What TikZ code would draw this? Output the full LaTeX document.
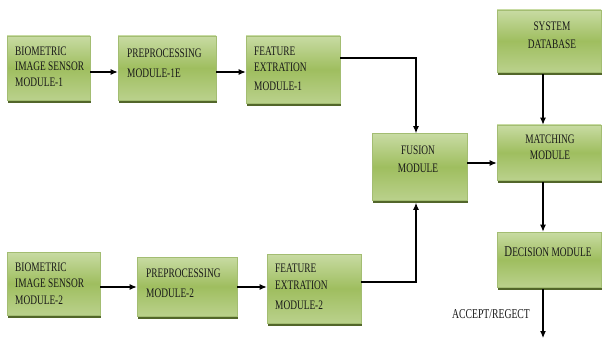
\documentclass[tikz,border=0pt]{standalone}
\usepackage{fontspec}
\setmainfont{Liberation Serif}[FakeStretch=0.72]
\usetikzlibrary{arrows.meta,shadows}
\definecolor{gtop}{HTML}{C8DBA3}
\definecolor{gmid}{HTML}{9FBE5F}
\definecolor{gbot}{HTML}{BAD18C}
\definecolor{gline}{HTML}{A3BD72}
\definecolor{gshadow}{HTML}{52662A}
\pgfdeclareverticalshading{greenbox}{100bp}{color(0bp)=(gbot); color(25bp)=(gbot); color(50bp)=(gmid); color(75bp)=(gtop); color(100bp)=(gtop)}
\begin{document}
\begin{tikzpicture}[x=1pt,y=-1pt,
  box/.style={draw=gline, line width=0.6pt, shade, shading=greenbox, inner sep=0pt,
    drop shadow={shadow xshift=1pt, shadow yshift=-3pt, fill=gshadow, opacity=1}},
  txt/.style={font=\fontsize{13}{16}\selectfont, text=black!90, inner sep=0pt, align=left, anchor=west},
  ctxt/.style={txt, align=center, anchor=center},
  arr/.style={draw=black, line width=1.1pt, -{Latex[length=7pt,width=6pt]}},
  ln/.style={draw=black, line width=1.1pt}]
\useasboundingbox (0,0) rectangle (602,339);
% boxes
\node[box, minimum width=83pt, minimum height=64pt] (b1) at (48.5,68) {};
\node[box, minimum width=98pt, minimum height=64pt] (p1) at (167,68) {};
\node[box, minimum width=94pt, minimum height=67pt] (f1) at (293,69.5) {};
\node[box, minimum width=93pt, minimum height=63pt] (b2) at (53.5,283.5) {};
\node[box, minimum width=100pt, minimum height=59pt] (p2) at (187,286.5) {};
\node[box, minimum width=94pt, minimum height=69pt] (f2) at (314,288.5) {};
\node[box, minimum width=95pt, minimum height=67pt] (fu) at (419.5,167) {};
\node[box, minimum width=104pt, minimum height=62pt] (db) at (549,41) {};
\node[box, minimum width=104pt, minimum height=55pt] (ma) at (549,152.5) {};
\node[box, minimum width=104pt, minimum height=55pt] (de) at (549,259.5) {};
% texts
\node[txt] (tb1) at (15,66.5) {BIOMETRIC\\[-0.5pt]IMAGE SENSOR\\[-0.5pt]MODULE-1};
\node[txt] (tp1) at (127,63) {PREPROCESSING\\[4pt]MODULE-1E};
\node[txt] (tf1) at (254,68.5) {FEATURE\\EXTRATION\\[3pt]MODULE-1};
\node[txt] (tb2) at (15,283.5) {BIOMETRIC\\[0.5pt]IMAGE SENSOR\\[0.5pt]MODULE-2};
\node[txt] (tp2) at (146,283) {PREPROCESSING\\[4pt]MODULE-2};
\node[txt] (tf2) at (275,286.5) {FEATURE\\[1pt]EXTRATION\\[4pt]MODULE-2};
\node[ctxt] (tfu) at (418,159) {FUSION\\[2pt]MODULE};
\node[ctxt] (tdb) at (552,35) {SYSTEM\\[2pt]DATABASE};
\node[ctxt] (tma) at (550,147) {MATCHING\\MODULE};
\node[ctxt] (tde) at (548,252) {{\fontsize{15}{16}\selectfont D}ECISION MODULE};
\node[ctxt, font=\fontsize{13.5}{16}\selectfont] (ac) at (491,314) {ACCEPT/REGECT};
% helper coordinates
\coordinate (cx) at (543,0);
\coordinate (fx) at (416,0);
\coordinate (t1) at (0,58);
\coordinate (t2) at (0,282);
\coordinate (ya) at (0,72);
\coordinate (yb) at (0,287);
\coordinate (ym) at (0,163);
\coordinate (out) at (543,338);
% connectors
\draw[arr] (b1.east |- ya) -- (p1.west |- ya);
\draw[arr] (p1.east |- ya) -- (f1.west |- ya);
\draw[arr] (b2.east |- yb) -- (p2.west |- yb);
\draw[arr] (p2.east |- yb) -- (f2.west |- yb);
\draw[arr] (f1.east |- t1) -| (fu.north -| fx);
\draw[arr] (f2.east |- t2) -| ([yshift=-2pt]fu.south -| fx);
\draw[arr] (fu.east |- ym) -- (ma.west |- ym);
\draw[arr] ([yshift=-2pt]db.south -| cx) -- (ma.north -| cx);
\draw[arr] ([yshift=-2pt]ma.south -| cx) -- (de.north -| cx);
\draw[arr] ([yshift=-2pt]de.south -| cx) -- (out);
\end{tikzpicture}
\end{document}
